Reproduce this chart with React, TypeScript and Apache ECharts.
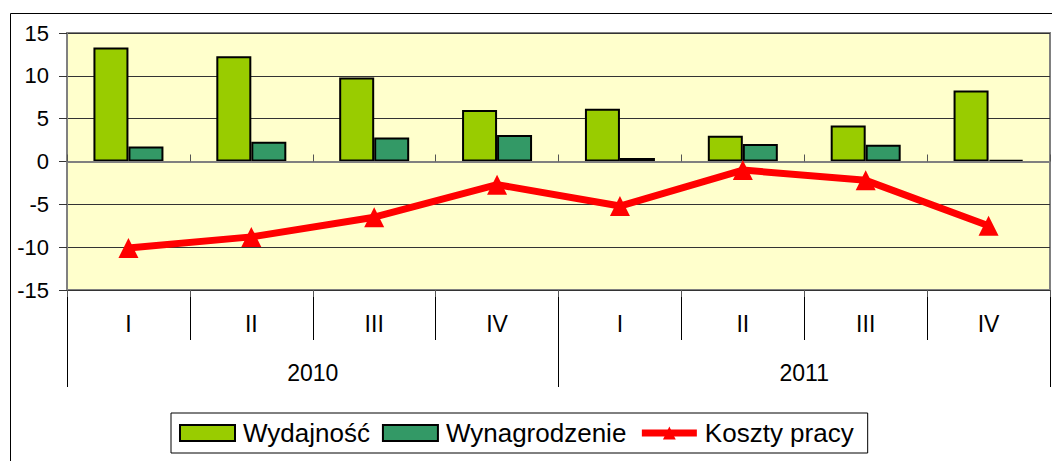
import React, { useEffect, useRef } from "react";
import * as echarts from "echarts";

const quarters = ["I", "II", "III", "IV", "I", "II", "III", "IV"];
const years = ["2010", "2011"];
const wydajnosc = [13.3, 12.3, 9.8, 6.0, 6.15, 3.0, 4.2, 8.3];
const wynagrodzenie = [1.75, 2.3, 2.8, 3.1, 0.4, 2.05, 1.95, 0.2];
const kosztyPracy = [-10.1, -8.8, -6.5, -2.7, -5.2, -1.0, -2.2, -7.5];
const seriesNames = ["Wydajność", "Wynagrodzenie", "Koszty pracy"];

const FONT = 'Arial, "Liberation Sans", sans-serif';

export default function App() {
  const ref = useRef<HTMLDivElement>(null);
  useEffect(() => {
    document.body.style.margin = "0";
    const chart = echarts.init(ref.current!, undefined, { renderer: "svg" });
    chart.setOption({
      animation: false,
      backgroundColor: "#ffffff",
      textStyle: { fontFamily: FONT },
      graphic: [
        {
          type: "rect",
          shape: { x: 10.5, y: 13.5, width: 1100, height: 500 },
          style: { fill: "none", stroke: "#000", lineWidth: 1 },
          silent: true,
          z: -1,
        },
      ],
      grid: {
        left: 67,
        top: 33,
        width: 983,
        height: 257,
        show: true,
        backgroundColor: "#FFFFCC",
        borderColor: "#808080",
        borderWidth: 2,
      },
      legend: {
        left: 171,
        top: 413,
        padding: [7, 14, 7, 8],
        itemGap: 12,
        itemWidth: 55,
        itemHeight: 16,
        borderColor: "#000",
        borderWidth: 1,
        backgroundColor: "#fff",
        data: [
          { name: seriesNames[0], icon: "rect" },
          { name: seriesNames[1], icon: "rect" },
          { name: seriesNames[2], lineStyle: { width: 7 }, itemStyle: { color: "#FF0000" } },
        ],
        textStyle: {
          fontFamily: FONT,
          fontSize: 26,
          lineHeight: 26,
          color: "#000",
          padding: [0, 0, 0, 3],
        },
      },
      xAxis: [
        {
          type: "category",
          data: quarters,
          position: "bottom",
          axisLine: { show: false, onZero: false },
          axisTick: {
            show: true,
            length: 50,
            interval: 0,
            lineStyle: { color: "#000", width: 1 },
          },
          axisLabel: {
            interval: 0,
            margin: 22,
            fontFamily: FONT,
            fontSize: 23,
            color: "#000",
          },
          splitLine: { show: false },
        },
        {
          type: "category",
          data: years,
          position: "bottom",
          axisLine: { show: false, onZero: false },
          axisTick: {
            show: true,
            length: 97,
            interval: 0,
            lineStyle: { color: "#000", width: 1 },
          },
          axisLabel: {
            interval: 0,
            margin: 71,
            fontFamily: FONT,
            fontSize: 23,
            color: "#000",
          },
          splitLine: { show: false },
        },
        {
          type: "category",
          data: quarters,
          position: "bottom",
          axisLine: { show: true, onZero: true, lineStyle: { color: "#808080", width: 2 } },
          axisTick: {
            show: true,
            inside: true,
            length: 7,
            interval: 0,
            lineStyle: { color: "#555", width: 1 },
          },
          axisLabel: { show: false },
          splitLine: { show: false },
          z: 5,
        },
        {
          type: "category",
          data: quarters,
          position: "bottom",
          axisLine: { show: false, onZero: true },
          axisTick: {
            show: true,
            inside: false,
            length: 7,
            interval: 0,
            lineStyle: { color: "#555", width: 1 },
          },
          axisLabel: { show: false },
          splitLine: { show: false },
          z: 5,
        },
      ],
      yAxis: {
        type: "value",
        min: -15,
        max: 15,
        interval: 5,
        axisLine: { show: true, lineStyle: { color: "#808080", width: 2 } },
        axisTick: { show: true, length: 8, lineStyle: { color: "#333", width: 1 } },
        axisLabel: {
          margin: 18,
          fontFamily: FONT,
          fontSize: 22,
          color: "#000",
        },
        splitLine: { show: true, lineStyle: { color: "#333", width: 1 } },
      },
      series: [
        {
          name: seriesNames[0],
          type: "bar",
          xAxisIndex: 0,
          data: wydajnosc,
          barWidth: 35,
          barGap: "0%",
          itemStyle: { color: "#99CC00", borderColor: "#000", borderWidth: 2 },
          z: 3,
        },
        {
          name: seriesNames[1],
          type: "bar",
          xAxisIndex: 0,
          data: wynagrodzenie,
          barWidth: 35,
          barGap: "0%",
          itemStyle: { color: "#339966", borderColor: "#000", borderWidth: 2 },
          z: 3,
        },
        {
          name: seriesNames[2],
          type: "line",
          xAxisIndex: 0,
          data: kosztyPracy,
          symbol: "triangle",
          symbolSize: 20,
          lineStyle: { color: "#FF0000", width: 7 },
          itemStyle: { color: "#FF0000" },
          z: 10,
        },
      ],
    });
    return () => chart.dispose();
  }, []);
  return <div ref={ref} style={{ width: 1052, height: 461 }} />;
}
